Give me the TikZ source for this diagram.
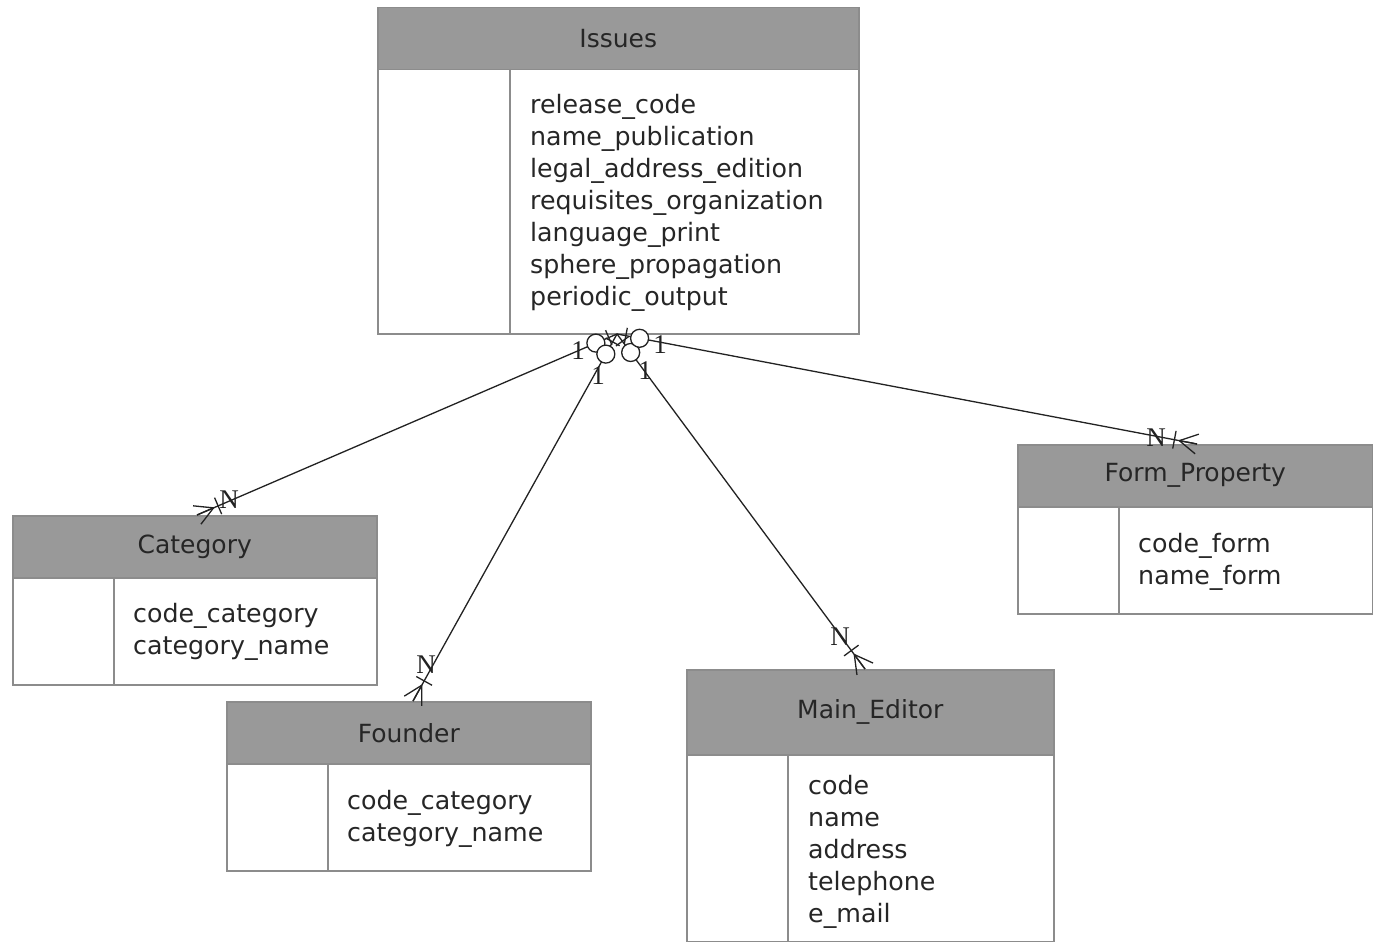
\documentclass[tikz,border=0pt]{standalone}
\usepackage{fontspec}
\setmainfont{DejaVu Sans}
\newfontfamily\cardfont{Liberation Serif}
\usetikzlibrary{calc}

\definecolor{hdrgray}{HTML}{999999}
\definecolor{boxline}{HTML}{8C8C8C}
\definecolor{connline}{HTML}{222222}

% one-to-many link: optional "1" end at #1, crow's foot "N" end at #2
\newcommand\erlink[2]{%
  \draw[conn] (#1) -- (#2);
  \coordinate (tmpb) at ($(#1)!9pt!(#2)$);
  \draw[conn] ($(tmpb)!8pt!90:(#2)$) -- ($(tmpb)!8pt!-90:(#2)$);
  \draw[conn, fill=white] ($(#1)!23pt!(#2)$) circle (9pt);
  \coordinate (tmpv) at ($(#2)!18pt!(#1)$);
  \draw[conn] (tmpv) -- ($(#2)!10pt!90:(#1)$);
  \draw[conn] (tmpv) -- ($(#2)!10pt!-90:(#1)$);
  \draw[conn] (tmpv) -- (#2);
  \coordinate (tmpc) at ($(#2)!23pt!(#1)$);
  \draw[conn] ($(tmpc)!9pt!90:(#1)$) -- ($(tmpc)!9pt!-90:(#1)$);
}

\begin{document}
\begin{tikzpicture}[x=1pt, y=-1pt,
  frame/.style={draw=boxline, line width=1.5pt},
  head/.style={frame, fill=hdrgray, anchor=north west, inner sep=0pt,
    font=\fontsize{25}{30}\selectfont, text=black!85},
  body/.style={frame, fill=white, anchor=north west, inner sep=0pt},
  attrs/.style={anchor=north west, inner sep=0pt, align=left,
    font=\fontsize{25.3}{32}\selectfont, text=black!85},
  conn/.style={draw=connline, line width=1.3pt},
  card/.style={inner sep=0pt, font=\cardfont\fontsize{27}{27}\selectfont, text=connline}]

\useasboundingbox (0,0) rectangle (1373,942);
\fill[white] (0,0) rectangle (1373,942);

% Issues
\node[body, minimum width=481pt, minimum height=264pt] (issues-body) at (377,69) {};
\node[head, minimum width=481pt, minimum height=62pt] (issues-head) at (377,7) {Issues};
\draw[frame] (510,69) -- (510,333);
\node[attrs] (issues-attrs) at (530,94) {release\_code\\name\_publication\\legal\_address\_edition\\requisites\_organization\\language\_print\\sphere\_propagation\\periodic\_output};

% Category
\node[body, minimum width=364pt, minimum height=107pt] (cat-body) at (12,577) {};
\node[head, minimum width=364pt, minimum height=62pt] (cat-head) at (12,515) {Category};
\draw[frame] (114,577) -- (114,684);
\node[attrs] (cat-attrs) at (133,603) {code\_category\\category\_name};

% Founder
\node[body, minimum width=364pt, minimum height=107pt] (fou-body) at (226,763) {};
\node[head, minimum width=364pt, minimum height=62pt] (fou-head) at (226,701) {Founder};
\draw[frame] (328,763) -- (328,870);
\node[attrs] (fou-attrs) at (347,790) {code\_category\\category\_name};

% Main_Editor
\node[body, minimum width=367pt, minimum height=187pt] (med-body) at (686,754) {};
\node[head, minimum width=367pt, minimum height=85pt] (med-head) at (686,669) {Main\_Editor};
\draw[frame] (788,754) -- (788,941);
\node[attrs] (med-attrs) at (808,775) {code\\name\\address\\telephone\\e\_mail};

% Form_Property
\node[body, minimum width=355pt, minimum height=107pt] (frm-body) at (1017,506) {};
\node[head, minimum width=355pt, minimum height=62pt] (frm-head) at (1017,444) {Form\_Property};
\draw[frame] (1119,506) -- (1119,613);
\node[attrs] (frm-attrs) at (1138,533) {code\_form\\name\_form};

% relationship end points
\coordinate (hub) at (617,334);
\coordinate (cat-top) at (197,515);
\coordinate (fou-top) at (413,701);
\coordinate (med-top) at (865,669);
\coordinate (frm-top) at (1197,444);

\erlink{hub}{cat-top}
\erlink{hub}{fou-top}
\erlink{hub}{med-top}
\erlink{hub}{frm-top}

% cardinalities
\node[card] (c1a) at (578,351) {1};
\node[card] (c1n) at (229,500) {N};
\node[card] (c2a) at (598,376) {1};
\node[card] (c2n) at (426,665) {N};
\node[card] (c3a) at (645,371) {1};
\node[card] (c3n) at (840,637) {N};
\node[card] (c4a) at (660,345) {1};
\node[card] (c4n) at (1156,438) {N};

\end{tikzpicture}
\end{document}
